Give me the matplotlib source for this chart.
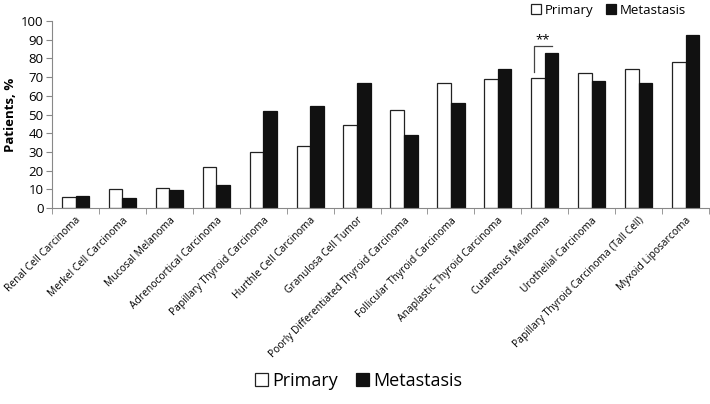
import matplotlib
matplotlib.use("Agg")
import matplotlib.pyplot as plt
import numpy as np

categories = ["Renal Cell Carcinoma", "Merkel Cell Carcinoma", "Mucosal Melanoma",
              "Adrenocortical Carcinoma", "Papillary Thyroid Carcinoma", "Hurthle Cell Carcinoma",
              "Granulosa Cell Tumor", "Poorly Differentiated Thyroid Carcinoma",
              "Follicular Thyroid Carcinoma", "Anaplastic Thyroid Carcinoma", "Cutaneous Melanoma",
              "Urothelial Carcinoma", "Papillary Thyroid Carcinoma (Tall Cell)", "Myxoid Liposarcoma"]
primary = [5.9, 10.4, 10.9, 22.1, 29.8, 33.4, 44.6, 52.3, 66.8, 69.1, 69.5, 72.1, 74.6, 78.0]
metastasis = [6.4, 5.4, 9.8, 12.5, 52.1, 54.3, 67.1, 39.3, 56.1, 74.5, 82.9, 67.7, 67.1, 92.3]
yticks = list(range(0, 101, 10))

plt.rcParams['font.family'] = ['Open Sans', 'DejaVu Sans']

fig = plt.figure(figsize=(7.1, 4.04), dpi=100)
ax = fig.add_axes([0.0733, 0.485, 0.9253, 0.463])

x = np.arange(len(categories))
w = 0.29
bp = ax.bar(x - w/2, primary, w, color='white', edgecolor='#222222', linewidth=0.9, label='Primary')
bm = ax.bar(x + w/2, metastasis, w, color='#111111', edgecolor='#111111', linewidth=0.9, label='Metastasis')

ax.set_xlim(-0.5, len(categories) - 0.5)
ax.set_ylim(0, 100)
ax.set_yticks(yticks)
ax.tick_params(axis='y', labelsize=9.5, length=4, color='#888888', pad=2)
ax.set_xticks(x)
ax.set_xticklabels(categories, rotation=45, ha='right', rotation_mode='anchor', fontsize=7.4)
ax.tick_params(axis='x', length=0, pad=5)
ax.set_xticks(np.arange(-0.5, len(categories), 1.0), minor=True)
ax.tick_params(axis='x', which='minor', length=4, color='#888888')
for s in ['top', 'right']:
    ax.spines[s].set_visible(False)
for s in ['left', 'bottom']:
    ax.spines[s].set_color('#888888')
ax.set_ylabel('Patients, %', fontsize=9.5, fontweight='bold', labelpad=3)

# significance bracket on Cutaneous Melanoma
i = categories.index("Cutaneous Melanoma")
xl = i - w + 0.06
xr = i + w/2
ax.plot([xl, xl, xr], [72.5, 86.4, 86.4], color='#444444', linewidth=0.9)
ax.text((xl + xr) / 2, 86.6, '**', ha='center', va='bottom', fontsize=9.5)

fig.legend(handles=[bp, bm], loc='center', bbox_to_anchor=(0.857, 0.975), ncol=2,
           frameon=False, fontsize=9.5, handlelength=0.75, handleheight=0.75,
           handletextpad=0.25, columnspacing=1.0, borderpad=0.1)
fig.legend(handles=[bp, bm], loc='center', bbox_to_anchor=(0.505, 0.057), ncol=2,
           frameon=False, fontsize=13, handlelength=0.7, handleheight=0.7,
           handletextpad=0.25, columnspacing=1.0, borderpad=0.1)

fig.savefig('out.png', dpi=100)
